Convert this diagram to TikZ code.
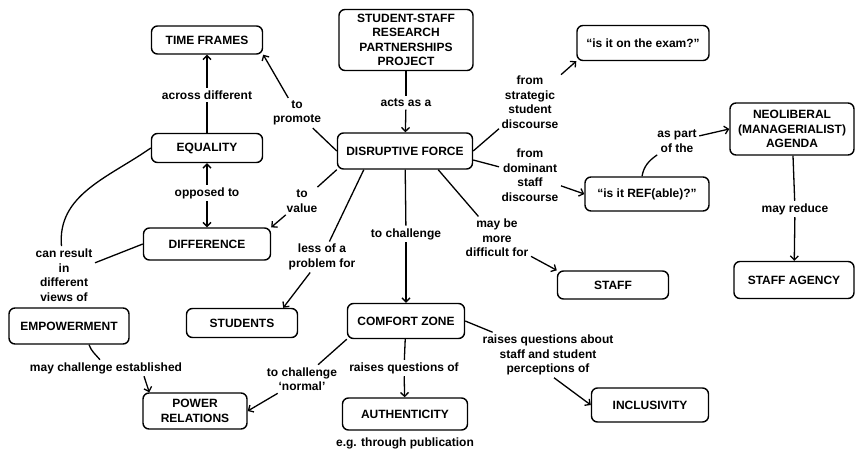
\documentclass[tikz,border=0pt]{standalone}
\usepackage{fontspec}
\setmainfont{Liberation Sans}
\usetikzlibrary{arrows.meta}
\begin{document}
\begin{tikzpicture}[
        x=1pt, y=1pt,
        >={Straight Barb[length=4pt,width=8pt]},
        every path/.style={line width=1.3pt},
        concept/.style={rectangle, draw, rounded corners=6pt, line width=1.4pt, align=center, inner sep=2pt, font=\fontsize{12}{14.5}\selectfont\bfseries},
        linklabel/.style={align=center, inner sep=2pt, font=\fontsize{12}{14.5}\selectfont\bfseries},
    ]
        \useasboundingbox (0,0) rectangle (855,-450);

        % Concepts
        \node[concept, minimum width=134pt, minimum height=61pt] (project) at (406,-40) {STUDENT-STAFF\\RESEARCH\\PARTNERSHIPS\\PROJECT};
        \node[concept, minimum width=135pt, minimum height=36pt] (ds) at (405,-151) {DISRUPTIVE FORCE};
        \node[concept, minimum width=111pt, minimum height=28pt] (tf) at (207,-40) {TIME FRAMES};
        \node[concept, minimum width=111pt, minimum height=29pt] (eq) at (207,-148) {EQUALITY};
        \node[concept, minimum width=127pt, minimum height=32pt] (diff) at (207,-244) {DIFFERENCE};
        \node[concept, minimum width=132pt, minimum height=35pt] (exam) at (643,-43) {“is it on the exam?”};
        \node[concept, minimum width=124pt, minimum height=52pt] (neo) at (792,-129) {NEOLIBERAL\\(MANAGERIALIST)\\AGENDA};
        \node[concept, minimum width=124pt, minimum height=34pt] (ref) at (647,-194) {“is it REF(able)?”};
        \node[concept, minimum width=111pt, minimum height=28pt] (staff) at (613,-285) {STAFF};
        \node[concept, minimum width=120pt, minimum height=37pt] (sa) at (794,-280) {STAFF AGENCY};
        \node[concept, minimum width=120pt, minimum height=36pt] (emp) at (69,-326) {EMPOWERMENT};
        \node[concept, minimum width=111pt, minimum height=29pt] (st) at (242,-323) {STUDENTS};
        \node[concept, minimum width=117pt, minimum height=35pt] (cz) at (406,-321) {COMFORT ZONE};
        \node[concept, minimum width=104pt, minimum height=36pt] (pr) at (195,-411) {POWER\\RELATIONS};
        \node[concept, minimum width=125pt, minimum height=32pt] (auth) at (405,-414) {AUTHENTICITY};
        \node[concept, minimum width=117pt, minimum height=34pt] (incl) at (650,-405) {INCLUSIVITY};

        % Link labels
        \node[linklabel] (acts) at (406,-103) {acts as a};
        \node[linklabel] (across) at (207,-95) {across different};
        \node[linklabel] (promote) at (297,-113) {to\\promote};
        \node[linklabel] (opposed) at (207,-193) {opposed to};
        \node[linklabel] (value) at (302,-201) {to\\value};
        \node[linklabel] (tochal) at (406,-234) {to challenge};
        \node[linklabel] (less) at (322,-257) {less of a\\problem for};
        \node[linklabel] (harder) at (497,-238) {may be\\more\\difficult for};
        \node[linklabel] (strat) at (530,-102) {from\\strategic\\student\\discourse};
        \node[linklabel] (dom) at (530,-175) {from\\dominant\\staff\\discourse};
        \node[linklabel] (aspart) at (677,-141) {as part\\of the};
        \node[linklabel] (reduce) at (795,-209) {may reduce};
        \node[linklabel] (canres) at (64,-275) {can result\\in\\different\\views of};
        \node[linklabel] (mce) at (106,-368) {may challenge established};
        \node[linklabel] (normal) at (302,-379) {to challenge\\‘normal’};
        \node[linklabel] (rqo) at (404,-368) {raises questions of};
        \node[linklabel] (rqa) at (548,-355) {raises questions about\\staff and student\\perceptions of};
        \node[linklabel] (eg) at (405,-443) {e.g. through publication};

        % Connectors
        \draw (project) -- (acts);
        \draw[->] (acts) -- (ds);
        \draw (ds.west) -- (promote);
        \draw[->] (promote) -- (tf.south east);
        \draw (eq) -- (across);
        \draw[->] (across) -- (tf);
        \draw[->] (opposed) -- (eq);
        \draw[->] (opposed) -- (diff);
        \draw (ds.south west) -- (value);
        \draw[->] (value) -- (diff.north east);
        \draw (ds) -- (tochal);
        \draw[->] (tochal) -- (cz);
        \draw ([xshift=27pt]ds.south west) -- (less);
        \draw[->] (less) -- ([xshift=-15pt]st.north east);
        \draw ([xshift=-35pt]ds.south east) -- (harder);
        \draw[->] (harder) -- (staff.north west);
        \draw (ds.east) -- (strat);
        \draw[->] (strat) -- (exam.south west);
        \draw ([yshift=-9pt]ds.east) -- (dom);
        \draw[->] (dom) -- (ref.west);
        \draw ([xshift=-5pt]ref.north) to[out=80,in=-145] (aspart);
        \draw[->] (aspart) -- (neo.west);
        \draw (neo) -- (reduce);
        \draw[->] (reduce) -- (sa);
        \draw (eq.west) to[out=215,in=95] (canres);
        \draw (diff.west) -- (canres);
        \draw ([xshift=20pt]emp.south) to[out=-70,in=130] ([xshift=-6pt]mce.north);
        \draw[->] ([xshift=38pt]mce.south) -- ([xshift=7pt]pr.north west);
        \draw (cz.south west) -- (normal);
        \draw[->] (normal) -- (pr.east);
        \draw (cz) -- (rqo);
        \draw[->] (rqo) -- (auth);
        \draw (cz.east) -- (rqa);
        \draw[->] ([xshift=6pt]rqa.south) -- (incl.west);
\end{tikzpicture}
\end{document}
